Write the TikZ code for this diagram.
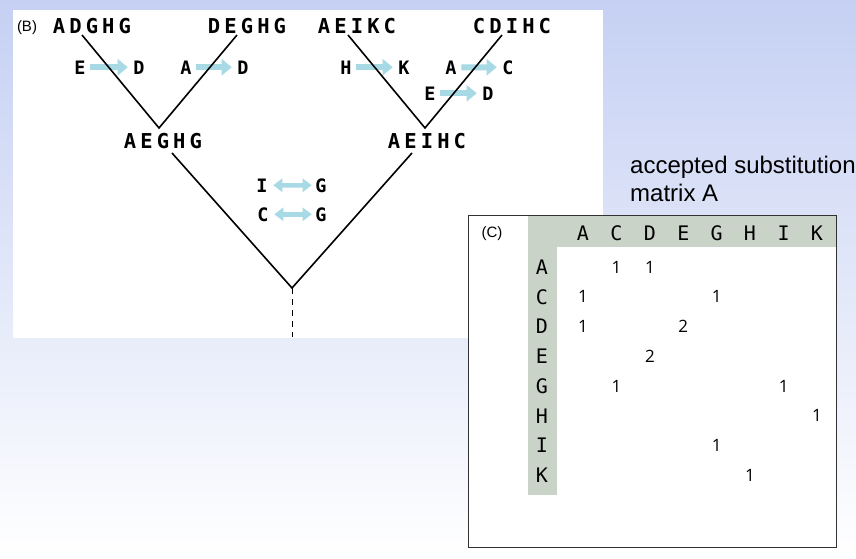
\documentclass[tikz,border=0pt]{standalone}
\usepackage{fontspec}
\usepackage{tikz}
\usetikzlibrary{arrows.meta,positioning,calc}
\newfontfamily\seqfont[LetterSpace=20]{DejaVu Sans Mono}
\newfontfamily\resfont{DejaVu Sans Mono}
\newfontfamily\labfont{Liberation Sans}
\newfontfamily\numfont{Open Sans}
\definecolor{bgtop}{RGB}{197,208,243}
\definecolor{subcol}{RGB}{168,218,230}
\definecolor{hdrcol}{RGB}{201,211,200}
\definecolor{boxline}{RGB}{50,50,50}
\tikzset{
  seq/.style   ={font=\seqfont\bfseries\fontsize{20.5}{24}\selectfont, inner sep=0pt, anchor=base},
  res/.style   ={font=\resfont\bfseries\fontsize{18.5}{22}\selectfont, inner sep=0pt, anchor=base},
  hdr/.style   ={font=\resfont\fontsize{20}{22}\selectfont, inner sep=0pt, anchor=base},
  num/.style   ={font=\numfont\fontsize{17}{19}\selectfont, inner sep=0pt},
  tag/.style   ={font=\labfont\fontsize{15}{17}\selectfont, inner sep=0pt},
  title/.style ={font=\labfont\fontsize{24}{28}\selectfont, inner sep=0pt, anchor=base west},
  subst/.style ={-{Triangle[length=10pt,width=16pt]}, line width=6pt, subcol,
                 shorten <=4.5pt, shorten >=5.5pt},
  swap/.style  ={{Triangle[length=9pt,width=13pt]}-{Triangle[length=9pt,width=13pt]},
                 line width=4.5pt, subcol, shorten <=5.5pt, shorten >=3.5pt},
  branch/.style={line width=1.6pt},
  stem/.style  ={line width=1pt, dash pattern=on 6pt off 5pt},
}
\begin{document}
\begin{tikzpicture}[x=1pt, y=-1pt]
  \useasboundingbox (0,0) rectangle (856,558);
  \shade[top color=bgtop, bottom color=white] (0,0) rectangle (856,558);

  % panel B: the tree
  \fill[white] (13,10) rectangle (603,338);
  \node[tag] (tag_b) at (27,28) {(B)};
  \node[seq] (s_adghg) at (92,33)  {ADGHG};
  \node[seq] (s_deghg) at (247,33) {DEGHG};
  \node[seq] (s_aeikc) at (357,33) {AEIKC};
  \node[seq] (s_cdihc) at (512,33) {CDIHC};
  \node[seq] (s_aeghg) at (163,148) {AEGHG};
  \node[seq] (s_aeihc) at (427,148) {AEIHC};
  \coordinate (j_left)  at (159,128);
  \coordinate (j_right) at (425,128);
  \coordinate (root)    at (292,288);
  \coordinate (stemend) at (292,337);

  % substitutions on the branches
  \node[res] (r_e1) at (80,74)  {E};
  \node[res] (r_d1) at (139,74) {D};
  \node[res] (r_a1) at (186,74) {A};
  \node[res] (r_d2) at (243,74) {D};
  \node[res] (r_h1) at (346,74) {H};
  \node[res] (r_k1) at (404,74) {K};
  \node[res] (r_a2) at (451,74) {A};
  \node[res] (r_c1) at (508,74) {C};
  \node[res] (r_e2) at (430,100) {E};
  \node[res] (r_d3) at (488,100) {D};
  \node[res] (r_i1) at (262,192) {I};
  \node[res] (r_g1) at (321,192) {G};
  \node[res] (r_c2) at (263,221) {C};
  \node[res] (r_g2) at (321,221) {G};
  \draw[subst] (r_e1) -- (r_d1);
  \draw[subst] (r_a1) -- (r_d2);
  \draw[subst] (r_h1) -- (r_k1);
  \draw[subst] (r_a2) -- (r_c1);
  \draw[subst] (r_e2) -- (r_d3);
  \draw[swap] (r_i1) -- (r_g1);
  \draw[swap] (r_c2) -- (r_g2);

  % branches
  \draw[branch] ($(s_adghg.base)+(-10,2)$) -- (j_left) -- ($(s_deghg.base)+(-10,2)$);
  \draw[branch] ($(s_aeikc.base)+(-9,2)$) -- (j_right) -- ($(s_cdihc.base)+(-10,2)$);
  \draw[branch] ($(s_aeghg.base)+(9,5)$) -- (root) -- ($(s_aeihc.base)+(-15,5)$);
  \draw[stem] (root) -- (stemend);

  % panel C: the matrix
  \node[title] (ttl_a) at (630,173) {accepted substitution};
  \node[title] (ttl_b) at (630,201) {matrix A};
  \draw[boxline, line width=1pt, fill=white] (468,215) rectangle (836,547);
  \fill[hdrcol] (528,215.5) rectangle (835.5,247);
  \fill[hdrcol] (528,215.5) rectangle (557,495);
  \node[tag] (tag_c) at (492,234) {(C)};
  \node[hdr] (h_a) at (583,240)   {A};
  \node[hdr] (h_c) at (616.4,240) {C};
  \node[hdr] (h_d) at (650,240)   {D};
  \node[hdr] (h_e) at (683.3,240) {E};
  \node[hdr] (h_g) at (716.7,240) {G};
  \node[hdr] (h_h) at (750,240)   {H};
  \node[hdr] (h_i) at (783.6,240) {I};
  \node[hdr] (h_k) at (817,240)   {K};
  \node[hdr] (m_a) at (542,274.5) {A};
  \node[hdr] (m_c) at (542,304.2) {C};
  \node[hdr] (m_d) at (542,333.9) {D};
  \node[hdr] (m_e) at (542,363.6) {E};
  \node[hdr] (m_g) at (542,393.3) {G};
  \node[hdr] (m_h) at (542,423)   {H};
  \node[hdr] (m_i) at (542,452.7) {I};
  \node[hdr] (m_k) at (542,482.4) {K};
  % counts
  \node[num] (v_ac) at (h_c |- m_a) {1};
  \node[num] (v_ad) at (h_d |- m_a) {1};
  \node[num] (v_ca) at (h_a |- m_c) {1};
  \node[num] (v_cg) at (h_g |- m_c) {1};
  \node[num] (v_da) at (h_a |- m_d) {1};
  \node[num] (v_de) at (h_e |- m_d) {2};
  \node[num] (v_ed) at (h_d |- m_e) {2};
  \node[num] (v_gc) at (h_c |- m_g) {1};
  \node[num] (v_gi) at (h_i |- m_g) {1};
  \node[num] (v_hk) at (h_k |- m_h) {1};
  \node[num] (v_ig) at (h_g |- m_i) {1};
  \node[num] (v_kh) at (h_h |- m_k) {1};
\end{tikzpicture}
\end{document}
